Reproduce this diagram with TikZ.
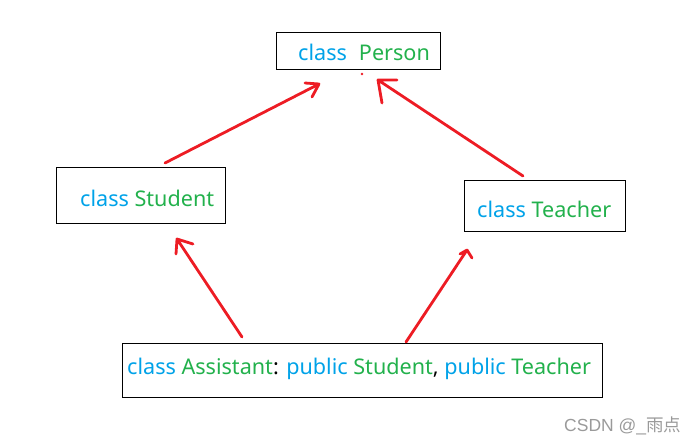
\documentclass[tikz,border=0pt]{standalone}
\usepackage{fontspec}
\setmainfont{Noto Sans}
\newfontfamily\cjkfont{Noto Sans CJK SC}
\newfontfamily\wmfont{Liberation Sans}
\definecolor{kwblue}{HTML}{00A2E8}
\definecolor{clsgreen}{HTML}{22B14C}
\definecolor{arrowred}{HTML}{ED1C24}
\definecolor{wmgray}{HTML}{9A9A9A}
\tikzset{
  classbox/.style={draw=black, line width=1.1pt, rectangle, inner sep=0pt, anchor=north west},
  classtext/.style={anchor=base west, inner sep=0pt, font=\fontsize{21.6}{24}\selectfont},
  inherit/.style={draw=arrowred, line width=2.8pt, line cap=round, line join=round},
}
\newcommand{\kw}[1]{\textcolor{kwblue}{#1}}
\newcommand{\cl}[1]{\textcolor{clsgreen}{#1}}
\begin{document}
\begin{tikzpicture}[x=1pt, y=-1pt]
\useasboundingbox (0,0) rectangle (700,444);
% boxes
\node[classbox, minimum width=164pt, minimum height=37pt] (person) at (276,32) {};
\node[classbox, minimum width=169pt, minimum height=56pt] (student) at (56,167) {};
\node[classbox, minimum width=161pt, minimum height=51pt] (teacher) at (464,180) {};
\node[classbox, minimum width=480pt, minimum height=54pt] (assistant) at (122,343) {};
% texts
\node[classtext] (personlbl) at (298,60) {\kw{class}\hspace{12pt}\cl{Person}};
\node[classtext] (studentlbl) at (80,206) {\kw{class} \cl{Student}};
\node[classtext] (teacherlbl) at (477,217) {\kw{class} \cl{Teacher}};
\node[classtext] (assistantlbl) at (127,374) {\kw{class} \cl{Assistant}: \kw{public} \cl{Student}, \kw{public} \cl{Teacher}};
% arrow coordinates
\coordinate (a1s) at (165,163); \coordinate (a1t) at (319,84);
\coordinate (a1b1) at (305,83); \coordinate (a1b2) at (312,97);
\coordinate (a2s) at (523,176); \coordinate (a2t) at (378,80);
\coordinate (a2b1) at (397,80); \coordinate (a2b2) at (382,103);
\coordinate (a3s) at (242,337); \coordinate (a3t) at (177,239);
\coordinate (a3b1) at (193,244); \coordinate (a3b2) at (176,254);
\coordinate (a4s) at (406,342); \coordinate (a4t) at (467,250);
\coordinate (a4b1) at (460,254); \coordinate (a4b2) at (472,258);
\draw[inherit] (a1s) -- (a1t) (a1b1) -- (a1t) -- (a1b2);
\draw[inherit] (a2s) -- (a2t) (a2b1) -- (a2t) -- (a2b2);
\draw[inherit] (a3s) -- (a3t) (a3b1) -- (a3t) -- (a3b2);
\draw[inherit] (a4s) -- (a4t) (a4b1) -- (a4t) -- (a4b2);
\fill[arrowred] (362,74) circle (1.3pt);
% watermark
\node[anchor=base west, inner sep=0pt, text=wmgray, font=\wmfont\fontsize{17.5}{20}\selectfont] (wm) at (564,431) {CSDN @\_{\cjkfont 雨点}};
\end{tikzpicture}
\end{document}
